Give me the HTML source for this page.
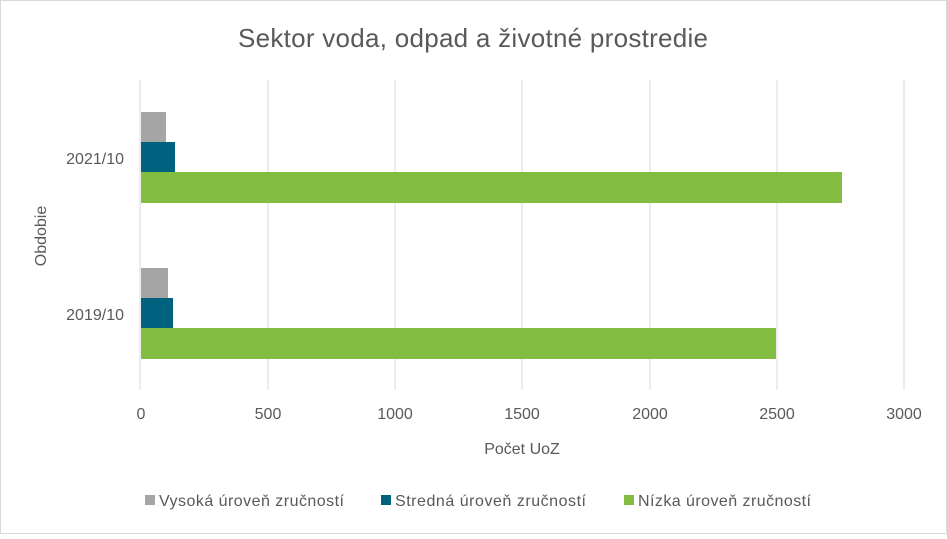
<!DOCTYPE html>
<html><head><meta charset="utf-8"><style>
body{margin:0;background:#fff}
svg text{font-family:"Liberation Sans",sans-serif;fill:#595959}
</style></head><body>
<svg width="947" height="534" xmlns="http://www.w3.org/2000/svg">
<rect x="0.5" y="0.5" width="946" height="533" fill="#fff" stroke="#d9d9d9"/>
<text x="473" y="47" font-size="26" text-anchor="middle" textLength="470">Sektor voda, odpad a životné prostredie</text>
<g stroke="#d9d9d9" stroke-width="1">
<line x1="268" y1="80" x2="268" y2="390"/><line x1="395" y1="80" x2="395" y2="390"/>
<line x1="522" y1="80" x2="522" y2="390"/><line x1="650" y1="80" x2="650" y2="390"/>
<line x1="777" y1="80" x2="777" y2="390"/><line x1="904" y1="80" x2="904" y2="390"/>
<line x1="140" y1="80" x2="140" y2="390"/>
</g>
<rect x="141" y="112" width="25" height="30" fill="#a5a5a5"/>
<rect x="141" y="142" width="34" height="30" fill="#00627f"/>
<rect x="141" y="172" width="701" height="31" fill="#82bc41"/>
<rect x="141" y="268" width="27" height="30" fill="#a5a5a5"/>
<rect x="141" y="298" width="32" height="30" fill="#00627f"/>
<rect x="141" y="328" width="635" height="31" fill="#82bc41"/>
<g font-size="16" text-anchor="end">
<text x="124" y="164">2021/10</text><text x="124" y="320">2019/10</text>
</g>
<g font-size="16" text-anchor="middle">
<text x="141" y="419">0</text><text x="268" y="419">500</text><text x="395" y="419">1000</text>
<text x="522" y="419">1500</text><text x="650" y="419">2000</text><text x="777" y="419">2500</text><text x="904" y="419">3000</text>
<text x="522" y="454">Počet UoZ</text>
</g>
<text transform="translate(46,236) rotate(-90)" font-size="16" text-anchor="middle">Obdobie</text>
<g font-size="16">
<rect x="145" y="495" width="10" height="10" fill="#a5a5a5"/><text x="159" y="506" textLength="185">Vysoká úroveň zručností</text>
<rect x="381" y="495" width="10" height="10" fill="#00627f"/><text x="395" y="506" textLength="191">Stredná úroveň zručností</text>
<rect x="624" y="495" width="10" height="10" fill="#82bc41"/><text x="638" y="506" textLength="173">Nízka úroveň zručností</text>
</g>
</svg>
</body></html>
